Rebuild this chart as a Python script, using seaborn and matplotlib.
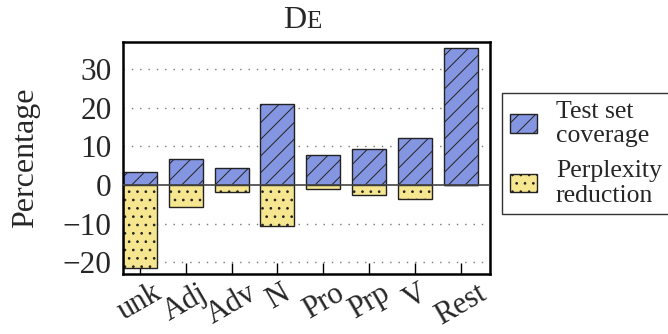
import numpy as np
import pandas as pd
import seaborn as sns
import matplotlib.pyplot as plt
from matplotlib.patches import Patch

# dados
categorias = ['unk', 'Adj', 'Adv', 'N', 'Pro', 'Prp', 'V', 'Rest']
cobertura = [3.4, 6.8, 4.5, 20.9, 7.7, 9.3, 12.2, 35.6]
perplexidade = [-21.4, -5.6, -1.9, -10.6, -1.0, -2.5, -3.7, -0.1]

azul = '#8496e2'
amarelo = '#f5e68f'

sns.set_style('white')
plt.rcParams['font.family'] = ['Liberation Serif', 'DejaVu Serif']
plt.rcParams['hatch.linewidth'] = 0.7
plt.rcParams['hatch.color'] = 'black'

df = pd.DataFrame({'cat': categorias, 'cob': cobertura, 'perp': perplexidade})

fig = plt.figure(figsize=(6.68, 3.34), dpi=100)
ax = fig.add_axes([0.1837, 0.1787, 0.5498, 0.6963])

sns.barplot(data=df, x='cat', y='cob', color=azul, saturation=1, width=0.74,
            edgecolor='#222222', linewidth=1.0, ax=ax)
n = len(categorias)
sns.barplot(data=df, x='cat', y='perp', color=amarelo, saturation=1, width=0.74,
            edgecolor='#222222', linewidth=1.0, ax=ax)

for i, p in enumerate(ax.patches):
    p.set_hatch('//' if i < n else '..')
    p.set_zorder(2)

ax.axhline(0, color='#444444', lw=1.2, zorder=3)

ax.set_ylim(-23.1, 37.1)
ax.set_xlim(-0.37, 7.63)
ax.set_yticks([-20, -10, 0, 10, 20, 30])
for v in [-20, -10, 10, 20, 30]:
    ax.axhline(v, color='#777777', lw=1.0, ls=(0, (1, 5)), zorder=1)

ax.tick_params(axis='y', length=0, labelsize=22.5, pad=8)
ax.tick_params(axis='x', direction='in', length=8, width=1.0, color='black',
               bottom=True, labelsize=22, pad=3)
plt.setp(ax.get_xticklabels(), rotation=30, ha='center')

for s in ax.spines.values():
    s.set_linewidth(1.8)
    s.set_color('black')

ax.set_xlabel('')
ax.set_ylabel('Percentage', fontsize=23, labelpad=16)

# titulo em versalete
fig.text(0.459, 0.916, 'D', fontsize=23, ha='right', va='baseline')
fig.text(0.459, 0.916, 'E', fontsize=18, ha='left', va='baseline')

handles = [Patch(facecolor=azul, edgecolor='#222222', hatch='//', label='Test set\ncoverage'),
           Patch(facecolor=amarelo, edgecolor='#222222', hatch='..', label='Perplexity\nreduction')]
leg = fig.legend(handles=handles, loc='upper left', bbox_to_anchor=(0.7515, 0.722),
                 fontsize=18.5, frameon=True, fancybox=False, edgecolor='black',
                 handlelength=1.05, handleheight=0.72, handletextpad=0.75,
                 labelspacing=0.5, borderpad=0.3, borderaxespad=0)
leg.get_frame().set_linewidth(1.0)
for t in leg.get_texts():
    t.set_linespacing(1.15)

fig.savefig('out.png', dpi=100)
